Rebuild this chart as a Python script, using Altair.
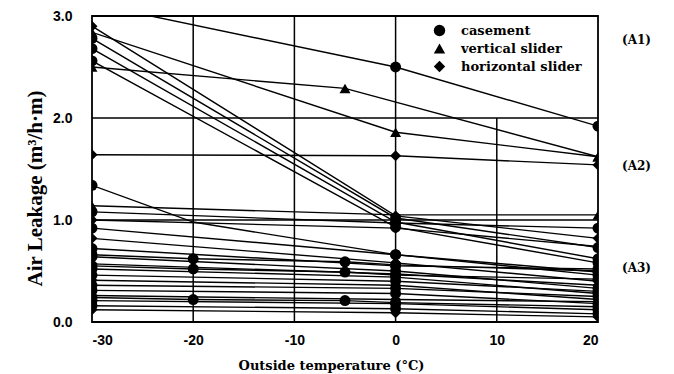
import altair as alt
import pandas as pd

# ---------------- data ----------------
type_names = ["casement", "vertical slider", "horizontal slider"]

line_types = [
    "casement", "vertical slider", "vertical slider", "horizontal slider",
    "horizontal slider", "casement", "casement", "casement",
    "casement", "vertical slider", "casement", "horizontal slider",
    "casement", "horizontal slider", "casement", "casement",
    "horizontal slider", "casement", "casement", "horizontal slider",
    "casement", "casement", "horizontal slider", "casement",
    "casement", "horizontal slider", "casement", "casement", "casement",
]

line_temps = [
    [-30, 0, 20], [-30, -5, 20], [-30, 0, 20], [-30, 0, 20],
    [-30, 0, 20], [-30, 0, 20], [-30, 0, 20], [-30, 0, 20],
    [-30, -20, 0, 20], [-30, 0, 20], [-30, 0, 20], [-30, 0, 20],
    [-30, 0, 20], [-30, 0, 20], [-30, 0, 20], [-30, 0, 20],
    [-30, 0, 20], [-30, 0, 20], [-30, 0, 20], [-30, 0, 20],
    [-30, 0, 20], [-30, 0, 20], [-30, 0, 20], [-30, 0, 20],
    [-30, 0, 20], [-30, 0, 20],
    [-30, -20, -5, 0, 20], [-30, -20, -5, 0, 20], [-30, -20, -5, 0, 20],
]

line_vals = [
    [3.12, 2.50, 1.92], [2.50, 2.29, 1.62], [2.84, 1.86, 1.62], [1.64, 1.63, 1.54],
    [2.90, 1.04, 0.82], [2.78, 1.02, 0.73], [2.68, 0.98, 0.62], [2.56, 0.93, 0.58],
    [1.34, 0.98, 0.66, 0.46], [1.14, 1.05, 1.05], [1.08, 0.97, 0.92], [1.00, 0.92, 0.74],
    [0.92, 0.66, 0.49], [0.82, 0.58, 0.40], [0.72, 0.55, 0.52], [0.64, 0.50, 0.33],
    [0.57, 0.47, 0.36], [0.52, 0.44, 0.28], [0.46, 0.40, 0.30], [0.41, 0.36, 0.22],
    [0.36, 0.33, 0.25], [0.31, 0.28, 0.18], [0.26, 0.22, 0.20], [0.21, 0.18, 0.12],
    [0.16, 0.13, 0.08], [0.12, 0.09, 0.05],
    [0.66, 0.62, 0.59, 0.56, 0.50], [0.55, 0.52, 0.49, 0.46, 0.42],
    [0.24, 0.22, 0.21, 0.19, 0.15],
]

# which vertices carry a measured-point symbol (1) or not (0)
line_marks = [
    [1, 1, 1], [1, 1, 1], [1, 1, 1], [1, 1, 1],
    [1, 1, 1], [1, 1, 1], [1, 1, 1], [1, 1, 1],
    [1, 0, 1, 1], [1, 1, 1], [1, 1, 1], [1, 1, 1],
    [1, 1, 1], [1, 1, 1], [1, 1, 1], [1, 1, 1],
    [1, 1, 1], [1, 1, 1], [1, 1, 1], [1, 1, 1],
    [1, 1, 1], [1, 1, 1], [1, 1, 1], [1, 1, 1],
    [1, 1, 1], [1, 1, 1],
    [1, 1, 1, 1, 1], [1, 1, 1, 1, 1], [1, 1, 1, 1, 1],
]

group_labels = ["(A1)", "(A2)", "(A3)"]
group_label_y = [2.76, 1.53, 0.53]
group_label_x = [23.8, 23.8, 23.8]

x_ticks = [-30, -20, -10, 0, 10, 20]
y_ticks = [0, 1, 2, 3]
vgrid_x = [-20, -10, 0, 10]
vgrid_top = [3, 3, 3, 2]
hgrid_y = [1, 2]

# ---------------- build tables ----------------
rows = []
for i, (t, temps, vals, marks) in enumerate(zip(line_types, line_temps, line_vals, line_marks)):
    for k, (x, y, m) in enumerate(zip(temps, vals, marks)):
        rows.append({"id": i, "order": k, "type": t, "temp": x, "leak": y, "mark": m})
df = pd.DataFrame(rows)
pts = df[df["mark"] == 1]

vgrid = pd.DataFrame({"x": vgrid_x, "y0": [0] * len(vgrid_x), "y1": vgrid_top})
hgrid = pd.DataFrame({"y": hgrid_y, "x0": [-30] * len(hgrid_y), "x1": [20] * len(hgrid_y)})
labels = pd.DataFrame({"label": group_labels, "x": group_label_x, "y": group_label_y})

xscale = alt.Scale(domain=[-30, 20], nice=False, zero=False)
yscale = alt.Scale(domain=[0, 3], nice=False)

xaxis = alt.Axis(values=x_ticks, grid=False, ticks=False, domain=False,
                 labelFont="Liberation Sans", labelFontWeight="bold", labelFontSize=14,
                 labelColor="black", labelPadding=11, labelExpr="replace(datum.label, '−', '-')",
                 title="Outside temperature (°C)", titleFont="DejaVu Serif",
                 titleFontWeight="bold", titleFontSize=13, titleColor="black", titlePadding=12,
                 titleX=239)
yaxis = alt.Axis(values=y_ticks, format=".1f", grid=False, ticks=False, domain=False,
                 labelFont="Liberation Sans", labelFontWeight="bold", labelFontSize=14,
                 labelColor="black", labelPadding=20,
                 title="Air Leakage (m³/h·m)", titleFont="Liberation Serif",
                 titleFontWeight="bold", titleFontSize=21, titleColor="black",
                 titleX=-57, titleY=172, titleAlign="center", titleAngle=270,
                 titleBaseline="middle")

base_x = alt.X("temp:Q", scale=xscale, axis=xaxis)
base_y = alt.Y("leak:Q", scale=yscale, axis=yaxis)

vg = alt.Chart(vgrid).mark_rule(color="black", strokeWidth=1.5).encode(
    x=alt.X("x:Q", scale=xscale), y=alt.Y("y0:Q", scale=yscale), y2="y1:Q")
hg = alt.Chart(hgrid).mark_rule(color="black", strokeWidth=1.5).encode(
    y=alt.Y("y:Q", scale=yscale), x=alt.X("x0:Q", scale=xscale), x2="x1:Q")

lines = alt.Chart(df).mark_line(color="black", strokeWidth=1.4, clip=True).encode(
    x=base_x, y=base_y, detail="id:N", order="order:Q")

points = alt.Chart(pts).mark_point(filled=True, color="black", opacity=1, size=120, clip=True).encode(
    x=alt.X("temp:Q", scale=xscale),
    y=alt.Y("leak:Q", scale=yscale),
    shape=alt.Shape("type:N",
                    scale=alt.Scale(domain=type_names, range=["circle", "triangle-up", "diamond"]),
                    legend=alt.Legend(title=None, orient="none", legendX=341, legendY=8,
                                      labelFont="DejaVu Serif", labelFontWeight="bold",
                                      labelFontSize=13, labelColor="black",
                                      symbolFillColor="black", symbolStrokeColor="black",
                                      symbolSize=130, rowPadding=0, labelOffset=15)),
)

text = alt.Chart(labels).mark_text(font="DejaVu Serif", fontWeight="bold", fontSize=12,
                                   color="black", align="center").encode(
    x=alt.X("x:Q", scale=xscale), y=alt.Y("y:Q", scale=yscale), text="label:N")

chart = alt.layer(vg, hg, lines, points, text).properties(
    width=506, height=306,
    autosize=alt.AutoSizeParams(type="none"),
    padding={"left": 92, "top": 16, "right": 76, "bottom": 52},
    background="white",
).configure_view(stroke="black", strokeWidth=1.8)

chart.save("out.html", embed_options={"renderer": "svg", "actions": False})
